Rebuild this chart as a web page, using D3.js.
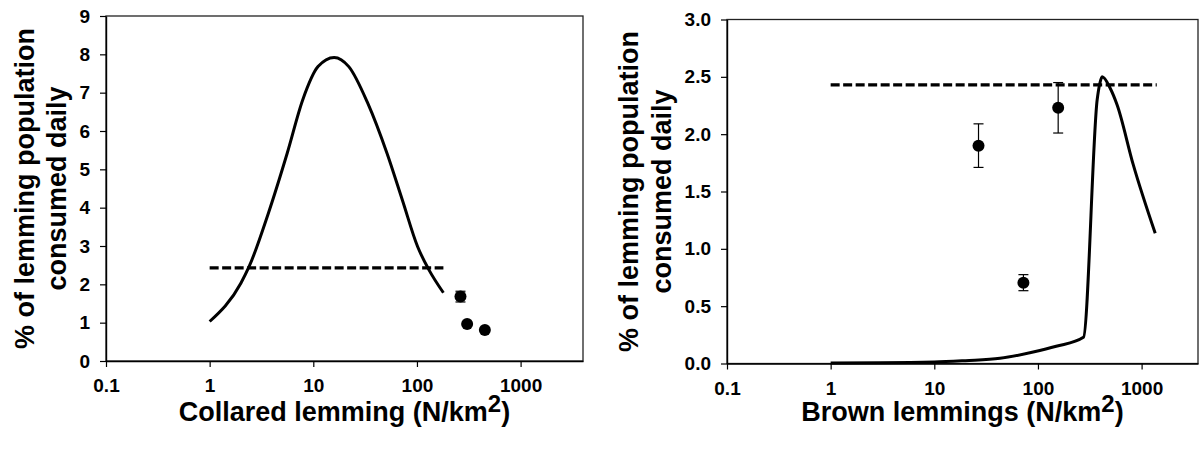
<!DOCTYPE html>
<html><head><meta charset="utf-8">
<script src="https://cdn.jsdelivr.net/npm/d3@7"></script>
<style>
html,body{margin:0;padding:0;background:#fff;}
svg text{font-family:Arial,"Liberation Sans",sans-serif;font-weight:bold;fill:#000;}
</style></head>
<body>
<svg id="c" width="1202" height="455"></svg>
<script>
// ---- data ----
const xTicks = [0.1, 1, 10, 100, 1000];
const xTickLabels = ["0.1", "1", "10", "100", "1000"];
const yTicksLeft = [0,1,2,3,4,5,6,7,8,9];
const yTicksRight = [0,0.5,1,1.5,2,2.5,3];
const yTickLabelsRight = ["0.0","0.5","1.0","1.5","2.0","2.5","3.0"];

// collared lemming model curve (density, % consumed)
const collaredCurveX = [1, 2, 2.4, 3.68, 5.6, 7.9, 11.1, 15.9, 22, 33.6, 51.4, 72.3, 101.6, 131, 180];
const collaredCurveY = [1.03, 2.03, 2.46, 3.85, 5.42, 6.81, 7.68, 7.92, 7.68, 6.72, 5.42, 4.2, 2.98, 2.37, 1.78];
const collaredDashX = [1, 180];
const collaredDashY = [2.43, 2.43];
const collaredPtsX = [263, 305, 452];
const collaredPtsY = [1.68, 0.965, 0.81];
const collaredPtsErr = [0.14, 0.0, 0.0];

// brown lemming model curve
const brownCurveX = [1, 3, 10, 20, 43, 90, 150, 274.8, 372.6, 394, 416.6, 497.7, 580.8, 829, 1353];
const brownCurveY = [0.005, 0.006, 0.012, 0.025, 0.045, 0.10, 0.15, 0.228, 2.30, 2.437, 2.50, 2.40, 2.254, 1.736, 1.135];
const brownDashX = [1, 1400];
const brownDashY = [2.43, 2.43];
const brownPtsX = [26.7, 72.4, 156.7];
const brownPtsY = [1.90, 0.705, 2.23];
const brownPtsErr = [0.19, 0.07, 0.22];

const svg = d3.select("#c");

function panel(cfg){
  const x = d3.scaleLog().domain(cfg.xDomain).range(cfg.xRange);
  const y = d3.scaleLinear().domain(cfg.yDomain).range(cfg.yRange);
  const g = svg.append("g");
  // frame
  g.append("rect").attr("x", cfg.xRange[0]).attr("y", cfg.yRange[1])
    .attr("width", cfg.xRange[1]-cfg.xRange[0]).attr("height", cfg.yRange[0]-cfg.yRange[1])
    .attr("fill","none").attr("stroke","#222").attr("stroke-width",1.3);
  // x axis
  const xa = g.append("g").attr("transform",`translate(0,${cfg.yRange[0]})`)
    .call(d3.axisBottom(x).tickValues(xTicks).tickFormat((d,i)=>xTickLabels[i]).tickSize(6).tickPadding(12).tickSizeOuter(0));
  xa.select(".domain").attr("stroke","#000").attr("stroke-width",1.4);
  xa.selectAll(".tick line").attr("stroke","#000").attr("stroke-width",1.2);
  xa.selectAll("text").style("font-size","19px").attr("fill","#000");
  // y axis
  const ya = g.append("g").attr("transform",`translate(${cfg.xRange[0]},0)`)
    .call(d3.axisLeft(y).tickValues(cfg.yTicks).tickFormat((d,i)=>cfg.yLabels[i]).tickSize(6).tickPadding(10).tickSizeOuter(0));
  ya.select(".domain").attr("stroke","#000").attr("stroke-width",1.4);
  ya.selectAll(".tick line").attr("stroke","#000").attr("stroke-width",1.2);
  ya.selectAll("text").style("font-size","19px").attr("fill","#000");

  // dashed line
  const dash = cfg.dashX.map((d,i)=>[d, cfg.dashY[i]]);
  g.append("path").datum(dash)
    .attr("d", d3.line().x(d=>x(d[0])).y(d=>y(d[1])))
    .attr("fill","none").attr("stroke","#000").attr("stroke-width",3.2)
    .attr("stroke-dasharray","9,3.5");
  // model curve
  const cur = cfg.curveX.map((d,i)=>[d, cfg.curveY[i]]);
  g.append("path").datum(cur)
    .attr("d", d3.line().x(d=>x(d[0])).y(d=>y(d[1])).curve(cfg.curve))
    .attr("fill","none").attr("stroke","#000").attr("stroke-width",3).attr("stroke-linejoin","round");
  // points with error bars
  const pts = cfg.ptsX.map((d,i)=>({x:d, y:cfg.ptsY[i], e:cfg.ptsErr[i]}));
  const pg = g.append("g");
  pts.forEach(p=>{
    if(p.e>0){
      const cx = x(p.x);
      pg.append("line").attr("x1",cx).attr("x2",cx).attr("y1",y(p.y+p.e)).attr("y2",y(p.y-p.e)).attr("stroke","#000").attr("stroke-width",1.2);
      [p.y+p.e, p.y-p.e].forEach(v=>{
        pg.append("line").attr("x1",cx-5).attr("x2",cx+5).attr("y1",y(v)).attr("y2",y(v)).attr("stroke","#000").attr("stroke-width",1.2);
      });
    }
    pg.append("circle").attr("cx",x(p.x)).attr("cy",y(p.y)).attr("r",6).attr("fill","#000");
  });

  // y title
  const cyMid = (cfg.yRange[0]+cfg.yRange[1])/2;
  [["% of lemming population", cfg.yTitleX1],["consumed daily", cfg.yTitleX2]].forEach(([t,px])=>{
    g.append("text").attr("transform",`translate(${px},${cyMid}) rotate(-90)`)
      .attr("text-anchor","middle").attr("dominant-baseline","central")
      .style("font-size","27px").text(t);
  });
  // x title
  const xt = g.append("text").attr("x",(cfg.xRange[0]+cfg.xRange[1])/2).attr("y",421)
    .attr("text-anchor","middle").style("font-size","27px");
  xt.append("tspan").text(cfg.xTitle + " (N/km");
  xt.append("tspan").attr("dy",-9).style("font-size","24px").text("2");
  xt.append("tspan").attr("dy",9).text(")");
}

panel({
  xDomain:[0.1,4000], xRange:[106,583], yDomain:[0,9], yRange:[361,16],
  yTicks:yTicksLeft, yLabels:yTicksLeft.map(String),
  curveX:collaredCurveX, curveY:collaredCurveY, curve:d3.curveMonotoneX,
  dashX:collaredDashX, dashY:collaredDashY,
  ptsX:collaredPtsX, ptsY:collaredPtsY, ptsErr:collaredPtsErr,
  yTitleX1:25, yTitleX2:57, xTitle:"Collared lemming"
});
panel({
  xDomain:[0.1,3500], xRange:[727,1198], yDomain:[0,3], yRange:[363.5,19.5],
  yTicks:yTicksRight, yLabels:yTickLabelsRight,
  curveX:brownCurveX, curveY:brownCurveY, curve:d3.curveMonotoneX,
  dashX:brownDashX, dashY:brownDashY,
  ptsX:brownPtsX, ptsY:brownPtsY, ptsErr:brownPtsErr,
  yTitleX1:629, yTitleX2:662, xTitle:"Brown lemmings"
});
</script>
</body></html>
